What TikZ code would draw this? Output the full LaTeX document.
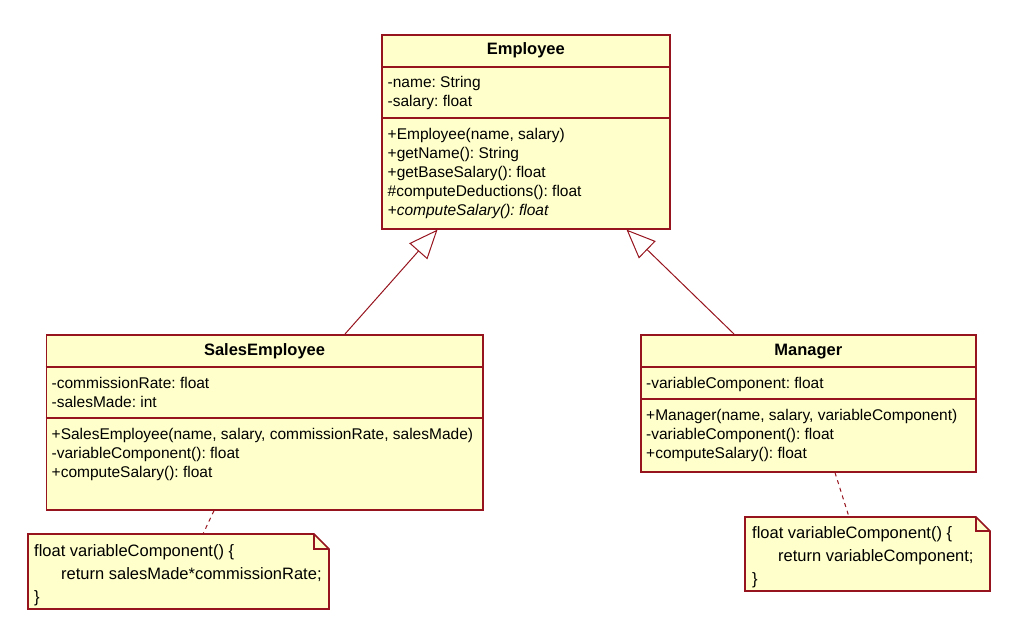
\documentclass[tikz,border=0pt]{standalone}
\usepackage{fontspec}
\setmainfont{Liberation Sans}
\usetikzlibrary{arrows.meta}
\definecolor{umlborder}{RGB}{150,20,30}
\definecolor{umlfill}{RGB}{255,255,204}
\frenchspacing
\begin{document}
\begin{tikzpicture}[x=1pt,y=-1pt,
  box/.style={draw=umlborder, fill=umlfill, line width=1.6pt, inner sep=0pt, anchor=north west},
  sep/.style={draw=umlborder, line width=1.6pt},
  title/.style={anchor=base, inner sep=0pt, font=\fontsize{16.5}{19}\selectfont\bfseries},
  txt/.style={anchor=base west, inner sep=0pt, font=\fontsize{15.5}{19}\selectfont},
  notetxt/.style={anchor=base west, inner sep=0pt, font=\fontsize{16.5}{23}\selectfont},
  gen/.style={draw=umlborder, line width=1pt, -{Triangle[open, length=29pt, width=24pt]}},
  anchorline/.style={draw=umlborder, line width=1pt, dash pattern=on 4pt off 4pt},
  note/.style={draw=umlborder, fill=umlfill, line width=1.6pt, line join=miter},
]
\useasboundingbox (0,0) rectangle (1027,628);

% ---------- Employee ----------
\node[box, minimum width=288pt, minimum height=194pt] (emp) at (381,34) {};
\draw[sep] ([yshift=-33pt]emp.north west) -- ([yshift=-33pt]emp.north east);
\draw[sep] ([yshift=-84pt]emp.north west) -- ([yshift=-84pt]emp.north east);
\node[title] (emp-title) at ([yshift=-21pt]emp.north) {Employee};
\foreach \t [count=\i from 0] in {{-name: String},{-salary: float}}{
  \pgfmathsetmacro\dy{-54-19*\i}
  \node[txt] (emp-a\i) at ([xshift=6.5pt,yshift=\dy pt]emp.north west) {\t};}
\foreach \t [count=\i from 0] in {{+Employee(name, salary)},{+getName(): String},{+getBaseSalary(): float},{\#computeDeductions(): float},{\itshape +computeSalary(): float}}{
  \pgfmathsetmacro\dy{-106-19*\i}
  \node[txt] (emp-m\i) at ([xshift=6.5pt,yshift=\dy pt]emp.north west) {\t};}

% ---------- SalesEmployee ----------
\node[box, minimum width=436.5pt, minimum height=175pt] (sales) at (45.5,334) {};
\draw[sep] ([yshift=-33pt]sales.north west) -- ([yshift=-33pt]sales.north east);
\draw[sep] ([yshift=-84pt]sales.north west) -- ([yshift=-84pt]sales.north east);
\node[title] (sales-title) at ([yshift=-21.5pt]sales.north) {SalesEmployee};
\foreach \t [count=\i from 0] in {{-commissionRate: float},{-salesMade: int}}{
  \pgfmathsetmacro\dy{-54-19*\i}
  \node[txt] (sales-a\i) at ([xshift=6pt,yshift=\dy pt]sales.north west) {\t};}
\foreach \t [count=\i from 0] in {{+SalesEmployee(name, salary, commissionRate, salesMade)},{-variableComponent(): float},{+computeSalary(): float}}{
  \pgfmathsetmacro\dy{-105-19*\i}
  \node[txt] (sales-m\i) at ([xshift=6pt,yshift=\dy pt]sales.north west) {\t};}

% ---------- Manager ----------
\node[box, minimum width=335pt, minimum height=137pt] (mgr) at (640,334) {};
\draw[sep] ([yshift=-33pt]mgr.north west) -- ([yshift=-33pt]mgr.north east);
\draw[sep] ([yshift=-65pt]mgr.north west) -- ([yshift=-65pt]mgr.north east);
\node[title] (mgr-title) at ([yshift=-21.5pt]mgr.north) {Manager};
\node[txt] (mgr-a0) at ([xshift=6pt,yshift=-54pt]mgr.north west) {-variableComponent: float};
\foreach \t [count=\i from 0] in {{+Manager(name, salary, variableComponent)},{-variableComponent(): float},{+computeSalary(): float}}{
  \pgfmathsetmacro\dy{-86-19*\i}
  \node[txt] (mgr-m\i) at ([xshift=6pt,yshift=\dy pt]mgr.north west) {\t};}

% ---------- Generalizations ----------
\draw[gen] ([xshift=299.5pt]sales.north west) -- ([xshift=56.5pt]emp.south west);
\draw[gen] ([xshift=94pt]mgr.north west) -- ([xshift=245.5pt]emp.south west);

% ---------- Notes ----------
\coordinate (note1-top) at (203,534);
\coordinate (note2-top) at (849,517);
\draw[anchorline] ([xshift=168.5pt]sales.south west) -- (note1-top);
\draw[anchorline] ([xshift=195pt]mgr.south west) -- (note2-top);

\draw[note] (28,534) -- (314,534) -- (329,549) -- (329,609) -- (28,609) -- cycle;
\draw[note, fill=none] (314,534) -- (314,549) -- (329,549);
\node[notetxt] (n1-l1) at (34,556) {float variableComponent() \{};
\node[notetxt] (n1-l2) at (61,579) {return salesMade*commissionRate;};
\node[notetxt] (n1-l3) at (34,602) {\}};

\draw[note] (745,517) -- (976,517) -- (990,531) -- (990,591) -- (745,591) -- cycle;
\draw[note, fill=none] (976,517) -- (976,531) -- (990,531);
\node[notetxt] (n2-l1) at (752,538) {float variableComponent() \{};
\node[notetxt] (n2-l2) at (778,561) {return variableComponent;};
\node[notetxt] (n2-l3) at (752,584) {\}};
\end{tikzpicture}
\end{document}
